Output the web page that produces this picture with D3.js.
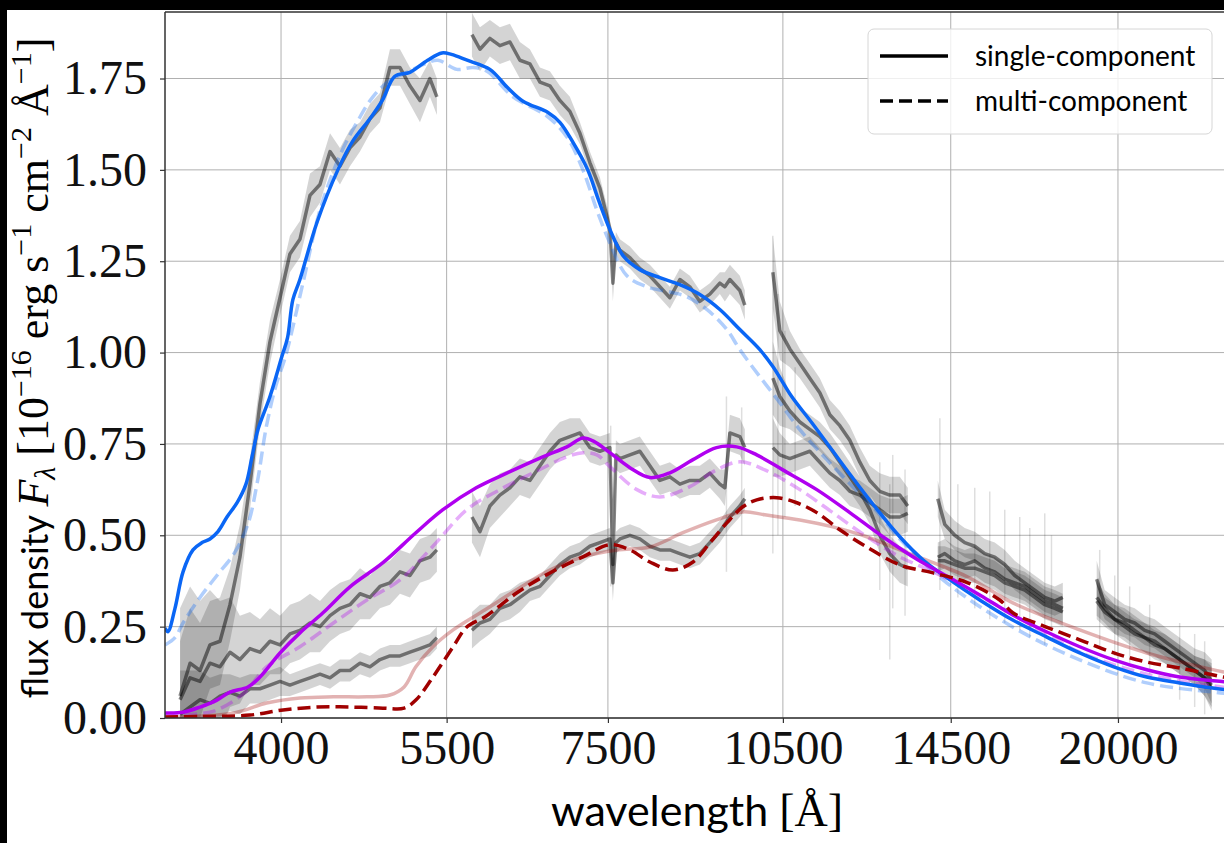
<!DOCTYPE html>
<html>
<head>
<meta charset="utf-8">
<script src="https://cdn.jsdelivr.net/npm/d3@7"></script>
<style>
  body { margin: 0; background: #000; }
  svg { display: block; }
</style>
</head>
<body>
<div id="chart"></div>
<script>
// ---- axis ticks ----
const xTicks = [4000, 5500, 7500, 10500, 14500, 20000];
const yTicks = [0, 0.25, 0.5, 0.75, 1.0, 1.25, 1.5, 1.75];

// ---- model spectra [wavelength (A), flux] ----
const singleEp1 = [[3200,0.246],[3218,0.236],[3262,0.30],[3313,0.40],[3377,0.46],[3436,0.48],[3489,0.49],[3543,0.51],[3605,0.55],[3677,0.59],[3739,0.64],[3783,0.715],[3827,0.79],[3916,0.88],[4007,0.99],[4050,1.04],[4092,1.145],[4148,1.20],[4286,1.356],[4462,1.50],[4594,1.58],[4746,1.64],[4860,1.69],[4978,1.756],[5125,1.767],[5303,1.80],[5450,1.82],[5551,1.816],[5721,1.80],[5977,1.775],[6180,1.726],[6370,1.688],[6683,1.657],[6838,1.63],[7013,1.575],[7214,1.50],[7361,1.42],[7528,1.337],[7730,1.263],[7975,1.227],[8288,1.205],[8613,1.186],[8950,1.159],[9301,1.118],[9666,1.063],[10045,1.008],[10299,0.962],[10683,0.879],[11101,0.808],[11536,0.734],[11989,0.66],[12458,0.589],[13147,0.496],[13743,0.433],[14390,0.384],[15332,0.323],[16337,0.268],[17429,0.222],[18582,0.178],[19842,0.14],[21140,0.112],[22521,0.096],[23995,0.082],[25000,0.075]];
const multiEp1 = [[3200,0.20],[3262,0.22],[3313,0.26],[3423,0.33],[3536,0.39],[3654,0.45],[3753,0.53],[3819,0.64],[3890,0.80],[3961,0.91],[4035,0.99],[4172,1.19],[4311,1.39],[4480,1.54],[4629,1.63],[4773,1.70],[4932,1.745],[5096,1.767],[5275,1.79],[5409,1.80],[5610,1.775],[5785,1.78],[5943,1.77],[6248,1.70],[6670,1.647],[6931,1.59],[7148,1.50],[7342,1.39],[7528,1.30],[7779,1.21],[8083,1.18],[8498,1.164],[8730,1.153],[9071,1.118],[9427,1.063],[9666,1.008],[10045,0.934],[10438,0.863],[10848,0.789],[11426,0.707],[12011,0.633],[12482,0.578],[13147,0.49],[14389,0.37],[16336,0.249],[18582,0.159],[21137,0.096],[23995,0.071],[25000,0.065]];
const singleEp2 = [[3200,0.014],[3313,0.016],[3423,0.03],[3536,0.049],[3626,0.071],[3753,0.085],[3841,0.112],[3992,0.178],[4148,0.233],[4336,0.288],[4567,0.359],[4866,0.425],[5184,0.507],[5461,0.57],[5822,0.63],[6212,0.674],[6624,0.715],[6931,0.742],[7148,0.766],[7300,0.757],[7528,0.726],[7824,0.685],[8130,0.658],[8449,0.671],[8833,0.707],[9241,0.74],[9607,0.742],[9985,0.72],[10498,0.679],[11207,0.625],[11942,0.562],[12725,0.496],[13608,0.433],[14473,0.384],[15421,0.332],[16337,0.282],[17429,0.236],[18582,0.195],[19842,0.159],[21140,0.132],[22521,0.112],[24510,0.099],[25000,0.096]];
const multiEp2 = [[3200,0.008],[3423,0.012],[3536,0.022],[3726,0.068],[3890,0.14],[4148,0.195],[4424,0.26],[4718,0.323],[5028,0.378],[5357,0.47],[5717,0.57],[6093,0.625],[6497,0.671],[6931,0.715],[7148,0.726],[7342,0.72],[7528,0.688],[7930,0.625],[8288,0.605],[8780,0.633],[9241,0.679],[9666,0.701],[10140,0.679],[10848,0.625],[11557,0.562],[12339,0.496],[13147,0.441],[14017,0.40],[14983,0.351],[15933,0.304],[17429,0.23],[18582,0.18],[21140,0.12],[23995,0.088],[25000,0.082]];
const singleEp3 = [[3200,0.002],[3654,0.014],[3890,0.041],[4148,0.055],[4424,0.058],[4718,0.058],[4932,0.063],[5068,0.085],[5184,0.14],[5357,0.195],[5569,0.241],[5923,0.296],[6292,0.351],[6708,0.405],[7148,0.441],[7630,0.46],[8130,0.468],[8663,0.507],[9241,0.542],[9722,0.564],[10140,0.556],[10848,0.542],[11557,0.523],[12339,0.496],[13147,0.46],[14017,0.425],[14983,0.386],[16337,0.315],[18582,0.241],[21140,0.178],[24510,0.126],[25000,0.122]];
const multiEp3 = [[3200,0.003],[3423,0.004],[3768,0.008],[4016,0.022],[4286,0.03],[4567,0.03],[4866,0.027],[5068,0.027],[5184,0.049],[5357,0.112],[5569,0.195],[5717,0.249],[5923,0.277],[6292,0.342],[6708,0.397],[7148,0.441],[7528,0.474],[7824,0.46],[8130,0.427],[8498,0.405],[8833,0.427],[9124,0.479],[9427,0.534],[9722,0.578],[9985,0.597],[10377,0.603],[10785,0.589],[11207,0.562],[11715,0.515],[12339,0.468],[13147,0.419],[14017,0.397],[14983,0.37],[15933,0.323],[16337,0.288],[17429,0.249],[18582,0.214],[19842,0.178],[21140,0.153],[22521,0.137],[24510,0.112],[25000,0.108]];

// ---- observed spectra: wavelength grids per arm ----
const uvbWave = [3294,3358,3423,3489,3557,3626,3696,3768,3841,3916,3992,4069,4148,4229,4311,4395,4480,4567,4656,4746,4838,4932,5028,5125,5225,5326,5398];
const visWave = [5774,5864,5977,6093,6212,6332,6455,6581,6708,6838,6971,7107,7244,7385,7528,7572,7616,7675,7824,7975,8130,8288,8449,8613,8780,8950,9124,9301,9391,9482,9666,9759];
const nirJWave = [10299,10438,10641,10848,11058,11273,11492,11715,11942,12174,12410,12651,12896,13147,13350];
const nirHWave = [14143,14334,14612,14896,15185,15480,15781,16087,16399,16718,17043,17373,17711,17988];
const nirKWave = [19198,19497,19876,20262,20654,21056,21464,21881,22305,22738,23179,23629,23950];

// epoch 1
const ep1UVBFlux = [0.06,0.15,0.13,0.20,0.21,0.31,0.44,0.64,0.86,1.03,1.15,1.27,1.31,1.43,1.46,1.55,1.51,1.56,1.59,1.64,1.67,1.78,1.78,1.73,1.69,1.75,1.70];
const ep1UVBErr  = [0.15,0.15,0.13,0.12,0.12,0.10,0.09,0.07,0.06,0.06,0.05,0.05,0.05,0.06,0.05,0.05,0.05,0.05,0.04,0.04,0.04,0.05,0.05,0.05,0.06,0.05,0.05];
const ep1VISFlux = [1.87,1.83,1.86,1.84,1.85,1.80,1.79,1.74,1.73,1.69,1.66,1.60,1.52,1.45,1.34,1.19,1.30,1.28,1.26,1.23,1.21,1.18,1.15,1.20,1.18,1.14,1.16,1.19,1.18,1.20,1.17,1.13];
const ep1VISErr  = [0.06,0.06,0.05,0.05,0.05,0.05,0.04,0.04,0.04,0.04,0.04,0.03,0.03,0.03,0.03,0.05,0.03,0.03,0.03,0.03,0.03,0.03,0.03,0.03,0.03,0.03,0.03,0.03,0.04,0.04,0.04,0.04];
const ep1JFlux = [1.22,1.06,1.01,0.97,0.93,0.89,0.83,0.80,0.76,0.70,0.65,0.62,0.61,0.61,0.58];
const ep1JErr  = [0.10,0.08,0.05,0.04,0.04,0.04,0.04,0.04,0.04,0.04,0.04,0.05,0.05,0.05,0.05];
const ep1HFlux = [0.60,0.53,0.50,0.48,0.47,0.45,0.44,0.42,0.39,0.37,0.35,0.33,0.32,0.33];
const ep1HErr  = [0.05,0.04,0.04,0.04,0.04,0.04,0.04,0.04,0.04,0.04,0.04,0.04,0.04,0.04];
const ep1KFlux = [0.38,0.31,0.29,0.27,0.26,0.24,0.23,0.21,0.19,0.17,0.15,0.13,0.10];
const ep1KErr  = [0.05,0.04,0.04,0.04,0.04,0.04,0.04,0.04,0.04,0.04,0.04,0.05,0.06];
// epoch 2
const ep2UVBFlux = [0.05,0.11,0.10,0.15,0.14,0.18,0.16,0.19,0.18,0.21,0.20,0.23,0.24,0.26,0.25,0.28,0.30,0.31,0.34,0.33,0.36,0.37,0.40,0.39,0.43,0.44,0.46];
const ep2UVBErr  = [0.25,0.25,0.22,0.20,0.18,0.15,0.12,0.10,0.09,0.09,0.08,0.08,0.08,0.08,0.07,0.07,0.07,0.07,0.07,0.06,0.06,0.06,0.06,0.06,0.06,0.06,0.06];
const ep2VISFlux = [0.55,0.51,0.58,0.61,0.63,0.66,0.65,0.69,0.73,0.76,0.77,0.78,0.74,0.73,0.74,0.42,0.72,0.71,0.72,0.73,0.69,0.65,0.66,0.64,0.65,0.65,0.67,0.64,0.63,0.78,0.77,0.74];
const ep2VISErr  = [0.07,0.07,0.06,0.06,0.05,0.05,0.05,0.05,0.05,0.05,0.05,0.04,0.04,0.04,0.04,0.06,0.04,0.04,0.04,0.04,0.04,0.04,0.04,0.04,0.04,0.04,0.04,0.04,0.05,0.05,0.05,0.05];
const ep2JFlux = [0.93,0.88,0.84,0.81,0.79,0.77,0.74,0.70,0.66,0.62,0.57,0.50,0.45,0.42,0.41];
const ep2JErr  = [0.10,0.08,0.05,0.04,0.04,0.04,0.04,0.04,0.04,0.04,0.04,0.05,0.05,0.05,0.05];
const ep2HFlux = [0.44,0.45,0.43,0.42,0.43,0.41,0.40,0.38,0.37,0.36,0.34,0.32,0.31,0.30];
const ep2HErr  = [0.04,0.04,0.04,0.04,0.04,0.04,0.04,0.04,0.04,0.04,0.04,0.04,0.04,0.04];
const ep2KFlux = [0.33,0.30,0.27,0.26,0.24,0.22,0.21,0.19,0.17,0.15,0.13,0.11,0.09];
const ep2KErr  = [0.05,0.04,0.04,0.04,0.04,0.04,0.04,0.04,0.04,0.04,0.04,0.05,0.06];
// epoch 3
const ep3UVBFlux = [0.01,0.03,0.05,0.04,0.06,0.07,0.06,0.08,0.08,0.09,0.10,0.09,0.10,0.11,0.12,0.11,0.13,0.13,0.15,0.14,0.16,0.17,0.17,0.18,0.19,0.20,0.22];
const ep3UVBErr  = [0.12,0.10,0.08,0.07,0.06,0.05,0.05,0.04,0.04,0.04,0.04,0.03,0.03,0.03,0.03,0.03,0.03,0.03,0.03,0.03,0.03,0.03,0.03,0.03,0.03,0.03,0.03];
const ep3VISFlux = [0.24,0.26,0.27,0.30,0.31,0.33,0.35,0.36,0.39,0.42,0.44,0.45,0.47,0.48,0.49,0.37,0.48,0.49,0.50,0.49,0.47,0.46,0.46,0.45,0.44,0.45,0.48,0.51,0.53,0.55,0.58,0.60];
const ep3VISErr  = [0.05,0.05,0.04,0.04,0.04,0.04,0.03,0.03,0.03,0.03,0.03,0.03,0.03,0.03,0.03,0.05,0.03,0.03,0.03,0.03,0.03,0.03,0.03,0.03,0.03,0.03,0.03,0.03,0.03,0.03,0.03,0.03];
const ep3JFlux = [0.74,0.72,0.71,0.72,0.73,0.70,0.67,0.65,0.62,0.61,0.59,0.57,0.55,0.55,0.56];
const ep3JErr  = [0.08,0.06,0.04,0.04,0.04,0.04,0.04,0.04,0.04,0.04,0.04,0.04,0.05,0.05,0.05];
const ep3HFlux = [0.43,0.43,0.42,0.41,0.41,0.40,0.39,0.37,0.36,0.35,0.33,0.31,0.30,0.29];
const ep3HErr  = [0.04,0.04,0.04,0.04,0.04,0.04,0.04,0.04,0.04,0.04,0.04,0.04,0.04,0.04];
const ep3KFlux = [0.32,0.29,0.27,0.25,0.23,0.22,0.20,0.19,0.17,0.15,0.13,0.11,0.08];
const ep3KErr  = [0.05,0.04,0.04,0.04,0.04,0.04,0.04,0.04,0.04,0.04,0.04,0.05,0.06];

// narrow noise spikes (sky lines / telluric residuals): [wavelength, low, high]
const noiseSpikes = [[7540,0.36,0.80],[9420,0.40,0.88],[9700,0.50,0.85],[10299,0.45,1.32],[10400,0.50,1.16],[10540,0.55,1.06],[10750,0.58,0.96],[12651,0.35,0.70],[12896,0.16,0.64],[12970,0.30,0.72],[13280,0.28,0.68],[14200,0.35,0.82],[14700,0.33,0.64],[15185,0.30,0.63],[15630,0.27,0.62],[16087,0.26,0.57],[16558,0.24,0.55],[16880,0.22,0.52],[17373,0.20,0.56],[17600,0.24,0.50],[19310,0.19,0.46],[19876,0.17,0.39],[20456,0.15,0.36],[21258,0.12,0.31],[22520,0.05,0.26],[23179,0.03,0.23],[23629,0.01,0.21]];

// pair wavelength grid with flux + error
function seg(wave, flux, err) {
  return wave.map((w, i) => ({w: w, f: flux[i], e: err[i]}));
}
const observed = [
  seg(uvbWave, ep1UVBFlux, ep1UVBErr), seg(visWave, ep1VISFlux, ep1VISErr),
  seg(nirJWave, ep1JFlux, ep1JErr), seg(nirHWave, ep1HFlux, ep1HErr), seg(nirKWave, ep1KFlux, ep1KErr),
  seg(uvbWave, ep2UVBFlux, ep2UVBErr), seg(visWave, ep2VISFlux, ep2VISErr),
  seg(nirJWave, ep2JFlux, ep2JErr), seg(nirHWave, ep2HFlux, ep2HErr), seg(nirKWave, ep2KFlux, ep2KErr),
  seg(uvbWave, ep3UVBFlux, ep3UVBErr), seg(visWave, ep3VISFlux, ep3VISErr),
  seg(nirJWave, ep3JFlux, ep3JErr), seg(nirHWave, ep3HFlux, ep3HErr), seg(nirKWave, ep3KFlux, ep3KErr)
];

// ---- figure ----
var width = 1224, height = 843;
var plot = {left: 165, top: 12, bottom: 718, right: 1234};

var svg = d3.select("#chart").append("svg")
    .attr("width", width)
    .attr("height", height);

svg.append("rect").attr("width", width).attr("height", height).attr("fill", "#000");
svg.append("rect").attr("x", 7).attr("y", 10)
    .attr("width", width - 7).attr("height", height - 10).attr("fill", "#fff");

var x = d3.scaleLog().domain([3200, 25000]).range([plot.left, plot.right]);
var y = d3.scaleLinear().domain([0, 1.932]).range([plot.bottom, plot.top]);

svg.append("clipPath").attr("id", "clip")
  .append("rect")
    .attr("x", plot.left).attr("y", plot.top)
    .attr("width", plot.right - plot.left).attr("height", plot.bottom - plot.top);

// grid
var grid = svg.append("g").attr("class", "grid");
grid.selectAll(".gx").data(xTicks).enter().append("line")
    .attr("x1", d => x(d)).attr("x2", d => x(d))
    .attr("y1", plot.top).attr("y2", plot.bottom)
    .attr("stroke", "#b0b0b0").attr("stroke-width", 1);
grid.selectAll(".gy").data(yTicks).enter().append("line")
    .attr("x1", plot.left).attr("x2", plot.right)
    .attr("y1", d => y(d)).attr("y2", d => y(d))
    .attr("stroke", "#b0b0b0").attr("stroke-width", 1);

var body = svg.append("g").attr("clip-path", "url(#clip)");

// observed: noise spikes, error bands, then the spectra
body.selectAll(".spike").data(noiseSpikes).enter().append("line")
    .attr("x1", d => x(d[0])).attr("x2", d => x(d[0]))
    .attr("y1", d => y(d[1])).attr("y2", d => y(d[2]))
    .attr("stroke", "#000").attr("stroke-opacity", 0.13)
    .attr("stroke-width", 1.5);

var band = d3.area()
    .x(d => x(d.w))
    .y0(d => y(d.f - d.e))
    .y1(d => y(d.f + d.e));
var specLine = d3.line()
    .x(d => x(d.w))
    .y(d => y(d.f));

body.selectAll(".band").data(observed).enter().append("path")
    .attr("d", band)
    .attr("fill", "#000")
    .attr("fill-opacity", 0.17);
body.selectAll(".spec").data(observed).enter().append("path")
    .attr("d", specLine)
    .attr("fill", "none")
    .attr("stroke", "#000")
    .attr("stroke-opacity", 0.48)
    .attr("stroke-width", 3.5)
    .attr("stroke-linejoin", "round");

// models
var model = d3.line()
    .x(d => x(d[0]))
    .y(d => y(d[1]))
    .curve(d3.curveCatmullRom.alpha(0.5));

var models = [
  {data: multiEp1,  color: "#0a66f5", op: 0.32, dash: true},
  {data: multiEp2,  color: "#b000f0", op: 0.32, dash: true},
  {data: singleEp3, color: "#a00000", op: 0.3,  dash: false},
  {data: singleEp1, color: "#0a66f5", op: 1,    dash: false},
  {data: singleEp2, color: "#b000f0", op: 1,    dash: false},
  {data: multiEp3,  color: "#a00000", op: 1,    dash: true}
];
body.selectAll(".model").data(models).enter().append("path")
    .attr("d", d => model(d.data))
    .attr("fill", "none")
    .attr("stroke", d => d.color)
    .attr("stroke-opacity", d => d.op)
    .attr("stroke-width", 3.5)
    .attr("stroke-dasharray", d => d.dash ? "13,6" : null);

// axes
var xAxis = svg.append("g")
    .attr("transform", "translate(0," + plot.bottom + ")")
    .call(d3.axisBottom(x).tickValues(xTicks).tickFormat(d3.format("d"))
      .tickSizeInner(5).tickSizeOuter(0).tickPadding(7));
var yAxis = svg.append("g")
    .attr("transform", "translate(" + plot.left + ",0)")
    .call(d3.axisLeft(y).tickValues(yTicks).tickFormat(d3.format(".2f"))
      .tickSizeInner(5).tickSizeOuter(0).tickPadding(13));
[xAxis, yAxis].forEach(function(a) {
  a.select(".domain").remove();
  a.selectAll(".tick line").attr("stroke", "#333").attr("stroke-width", 1.2);
  a.selectAll(".tick text")
      .attr("fill", "#111")
      .style("font-family", "'Liberation Serif', serif")
      .style("font-size", "48px");
});

// spines
svg.append("path")
    .attr("d", "M" + plot.left + "," + plot.top + "V" + plot.bottom + "H" + plot.right)
    .attr("fill", "none").attr("stroke", "#333").attr("stroke-width", 1.5);
svg.append("line")
    .attr("x1", plot.left).attr("x2", plot.right)
    .attr("y1", plot.top).attr("y2", plot.top)
    .attr("stroke", "#333").attr("stroke-width", 1.5);

// x label
var xl = svg.append("text")
    .attr("x", 697).attr("y", 826)
    .attr("text-anchor", "middle")
    .attr("fill", "#000");
xl.append("tspan").style("font-family", "Lato, sans-serif").style("font-size", "43px").text("wavelength ");
xl.append("tspan").style("font-family", "'Liberation Serif', serif").style("font-size", "46px").text("[Å]");

// y label
var yl = svg.append("text")
    .attr("transform", "translate(48,368) rotate(-90)")
    .attr("text-anchor", "middle")
    .attr("fill", "#000");
var serif = "'Liberation Serif', serif";
function part(txt, fam, size, dy, italic) {
  var t = yl.append("tspan").text(txt)
      .style("font-family", fam).style("font-size", size + "px");
  if (dy) t.attr("dy", dy);
  if (italic) t.style("font-style", "italic");
}
part("flux density ", "Lato, sans-serif", 36, 0);
part("F", serif, 44, 0, true);
part("λ", serif, 30, 7, true);
part(" [10", serif, 44, -7);
part("−16", serif, 30, -17);
part(" erg s", serif, 44, 17);
part("−1", serif, 30, -17);
part(" cm", serif, 44, 17);
part("−2", serif, 30, -17);
part(" Å", serif, 44, 17);
part("−1", serif, 30, -17);
part("]", serif, 44, 17);

// legend
var legend = svg.append("g");
legend.append("rect")
    .attr("x", 868).attr("y", 29).attr("width", 344).attr("height", 105)
    .attr("rx", 6).attr("ry", 6)
    .attr("fill", "#fff").attr("fill-opacity", 0.8)
    .attr("stroke", "#d6d6d6").attr("stroke-width", 1);
var legendItems = [
  {label: "single-component", dash: null, y: 56},
  {label: "multi-component", dash: "13,6", y: 101}
];
legend.selectAll(".li").data(legendItems).enter().append("line")
    .attr("x1", 880).attr("x2", 948)
    .attr("y1", d => d.y).attr("y2", d => d.y)
    .attr("stroke", "#000").attr("stroke-width", 3.5)
    .attr("stroke-dasharray", d => d.dash);
legend.selectAll(".lt").data(legendItems).enter().append("text")
    .attr("x", 975).attr("y", d => d.y + 10)
    .style("font-family", "Lato, sans-serif").style("font-size", "28px")
    .attr("fill", "#000")
    .text(d => d.label);
</script>
</body>
</html>
